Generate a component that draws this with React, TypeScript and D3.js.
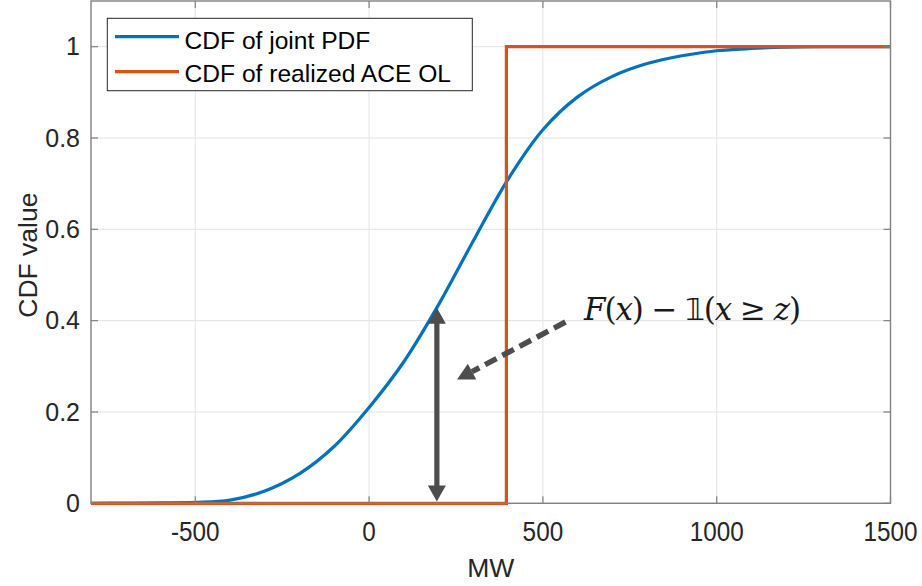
import React from "react";
import * as d3 from "d3";

// ---- data ----
const jointX = [-800, -700, -600, -500, -400, -300, -200, -100, 0, 100, 200, 300, 400, 500, 600, 700, 800, 900, 1000, 1100, 1200, 1300, 1400, 1500];
const jointCdf = [0, 0.0005, 0.001, 0.002, 0.007, 0.027, 0.065, 0.125, 0.21, 0.31, 0.435, 0.575, 0.71, 0.818, 0.89, 0.935, 0.963, 0.98, 0.991, 0.996, 0.999, 1.0, 1.0, 1.0];
const realizedX = [-800, 395, 395, 1500];
const realizedCdf = [0, 0, 1, 1];
const xTicks = [-500, 0, 500, 1000, 1500];
const yTicks = [0, 0.2, 0.4, 0.6, 0.8, 1];
const yTickLabels = ["0", "0.2", "0.4", "0.6", "0.8", "1"];
const seriesNames = ["CDF of joint PDF", "CDF of realized ACE OL"];
const seriesColors = ["#0072BD", "#D95319"];

// annotation anchors in data units
const gapArrowX = 195;
const gapArrowTop = 0.428;
const gapArrowBottom = 0.004;
const pointerFrom = [565, 0.397];
const pointerTo = [253, 0.271];

const W = 922;
const H = 586;
const X0 = 91, X1 = 890.5, Y0 = 503.3, Y1 = 1;

export default function App() {
  const x = d3.scaleLinear().domain([-800, 1500]).range([X0, X1]);
  const y = d3.scaleLinear().domain([0, 1.1]).range([Y0, Y1]);

  const jointData = jointX.map((v, i) => [v, jointCdf[i]] as [number, number]);
  const realData = realizedX.map((v, i) => [v, realizedCdf[i]] as [number, number]);

  const smooth = d3.line<[number, number]>().x(d => x(d[0])).y(d => y(d[1])).curve(d3.curveCatmullRom.alpha(0.5));
  const straight = d3.line<[number, number]>().x(d => x(d[0])).y(d => y(d[1]));

  const axisColor = "#808080";
  const textColor = "#262626";
  const gridColor = "#e3e3e3";
  const tickLen = 7;

  // gap arrow geometry
  const gx = x(gapArrowX);
  const gTop = y(gapArrowTop);
  const gBot = y(gapArrowBottom);
  const headL = 16, headW = 9;

  // dashed pointer geometry
  const p0x = x(pointerFrom[0]), p0y = y(pointerFrom[1]);
  const p1x = x(pointerTo[0]), p1y = y(pointerTo[1]);
  const ang = Math.atan2(p1y - p0y, p1x - p0x);
  const pHead = 17, pHalf = 9;
  const baseX = p1x - pHead * Math.cos(ang), baseY = p1y - pHead * Math.sin(ang);
  const nx = -Math.sin(ang), ny = Math.cos(ang);

  const font = "'Liberation Sans', Arial, Helvetica, sans-serif";
  const serif = "'DejaVu Serif', 'Liberation Serif', serif";

  return (
    <svg width={W} height={H} style={{ position: "absolute", left: 0, top: 0, background: "#fff" }} fontFamily={font}>
      <rect x={0} y={0} width={W} height={H} fill="#fff" />
      {/* grid */}
      {xTicks.map(t => (
        <line key={"gx" + t} x1={x(t)} x2={x(t)} y1={Y0} y2={Y1} stroke={gridColor} strokeWidth={1} />
      ))}
      {yTicks.map(t => (
        <line key={"gy" + t} x1={X0} x2={X1} y1={y(t)} y2={y(t)} stroke={gridColor} strokeWidth={1} />
      ))}

      {/* series */}
      <path d={smooth(jointData) || ""} fill="none" stroke={seriesColors[0]} strokeWidth={3.2} strokeLinejoin="round" />
      <path d={straight(realData) || ""} fill="none" stroke={seriesColors[1]} strokeWidth={3.2} strokeLinejoin="miter" />

      {/* box */}
      <rect x={X0} y={Y1} width={X1 - X0} height={Y0 - Y1} fill="none" stroke={axisColor} strokeWidth={1.4} />
      {/* ticks */}
      {xTicks.map(t => (
        <g key={"tx" + t}>
          <line x1={x(t)} x2={x(t)} y1={Y0} y2={Y0 - tickLen} stroke={axisColor} strokeWidth={1.2} />
          <line x1={x(t)} x2={x(t)} y1={Y1} y2={Y1 + tickLen} stroke={axisColor} strokeWidth={1.2} />
          <text x={x(t)} y={541} textAnchor="middle" fontSize={27} fill={textColor}
            transform={`translate(${x(t)},0) scale(0.9,1) translate(${-x(t)},0)`}>{t}</text>
        </g>
      ))}
      {yTicks.map((t, i) => (
        <g key={"ty" + t}>
          <line x1={X0} x2={X0 + tickLen} y1={y(t)} y2={y(t)} stroke={axisColor} strokeWidth={1.2} />
          <line x1={X1} x2={X1 - tickLen} y1={y(t)} y2={y(t)} stroke={axisColor} strokeWidth={1.2} />
          <text x={80} y={y(t) + 8.8} textAnchor="end" fontSize={25} fill={textColor}>{yTickLabels[i]}</text>
        </g>
      ))}

      {/* axis labels */}
      <text x={(X0 + X1) / 2} y={577} textAnchor="middle" fontSize={26.5} fill={textColor}>MW</text>
      <text transform={`translate(37,${(Y0 + Y1) / 2 + 3}) rotate(-90)`} textAnchor="middle" fontSize={26.5} fill={textColor}>CDF value</text>

      {/* legend */}
      <rect x={107.3} y={18.3} width={365} height={72.4} fill="#fff" stroke={textColor} strokeWidth={1} />
      {seriesNames.map((n, i) => (
        <g key={n}>
          <line x1={115} x2={179} y1={36.7 + i * 35} y2={36.7 + i * 35} stroke={seriesColors[i]} strokeWidth={3.2} />
          <text x={184.5} y={48.5 + i * 33.3} fontSize={24.6} fill="#000">{n}</text>
        </g>
      ))}

      {/* double-headed gap arrow */}
      <g fill="#4d4d4d" stroke="none">
        <rect x={gx - 2.6} y={gTop + headL - 1} width={5.2} height={gBot - gTop - 2 * headL + 2} />
        <polygon points={`${gx},${gTop} ${gx - headW},${gTop + headL} ${gx + headW},${gTop + headL}`} />
        <polygon points={`${gx},${gBot} ${gx - headW},${gBot - headL} ${gx + headW},${gBot - headL}`} />
      </g>

      {/* dashed pointer */}
      <line x1={p0x} y1={p0y} x2={baseX} y2={baseY} stroke="#4d4d4d" strokeWidth={5.5} strokeDasharray="13,6.5" />
      <polygon fill="#4d4d4d"
        points={`${p1x},${p1y} ${baseX + nx * pHalf},${baseY + ny * pHalf} ${baseX - nx * pHalf},${baseY - ny * pHalf}`} />

      {/* formula */}
      <text x={584} y={319.5} fontSize={31} fill="#1a1a1a" fontFamily={serif} textLength={217} lengthAdjust="spacing">
        <tspan fontStyle="italic">F</tspan>
        <tspan>(</tspan>
        <tspan fontStyle="italic">x</tspan>
        <tspan>) − </tspan>
        <tspan fontFamily="'DejaVu Sans', sans-serif">𝟙</tspan>
        <tspan>(</tspan>
        <tspan fontStyle="italic">x</tspan>
        <tspan> ≥ </tspan>
        <tspan fontStyle="italic">z</tspan>
        <tspan>)</tspan>
      </text>
    </svg>
  );
}
